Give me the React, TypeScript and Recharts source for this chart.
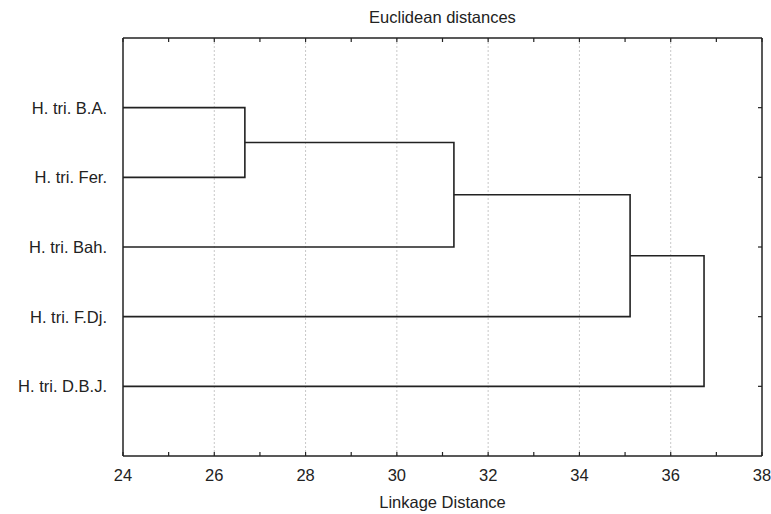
// Dendrogram (Euclidean distances, single tree) drawn with Recharts scatter lines

import { ComposedChart, Scatter, XAxis, YAxis, CartesianGrid } from 'recharts';

const leafNames = ['H. tri. B.A.', 'H. tri. Fer.', 'H. tri. Bah.', 'H. tri. F.Dj.', 'H. tri. D.B.J.'];
// merge k joins node mergeLeft[k] with node mergeRight[k]; node ids >= 5 are earlier clusters
const mergeLeft = [0, 5, 6, 7];
const mergeRight = [1, 2, 3, 4];
const mergeDistance = [26.67, 31.25, 35.11, 36.73];

const majorTicks = [24, 26, 28, 30, 32, 34, 36, 38];
const minorTicks = [24, 25, 26, 27, 28, 29, 30, 31, 32, 33, 34, 35, 36, 37, 38];
const leafTicks = [1, 2, 3, 4, 5];

const X_MIN = 24;
const X_MAX = 38;
const INK = '#222';
const FONT = '"Liberation Sans", Arial, sans-serif';

type Pt = { x: number; y: number };

/** Turn the linkage into one U-shaped path per merge */
function buildLinks(): Pt[][] {
  const nodes: Pt[] = leafNames.map((_, i) => ({ x: X_MIN, y: i + 1 }));
  return mergeDistance.map((d, k) => {
    const a = nodes[mergeLeft[k]];
    const b = nodes[mergeRight[k]];
    nodes.push({ x: d, y: (a.y + b.y) / 2 });
    return [
      { x: a.x, y: a.y },
      { x: d, y: a.y },
      { x: d, y: b.y },
      { x: b.x, y: b.y },
    ];
  });
}

const links = buildLinks();
const blank = () => '';
const evenOnly = (v: number) => (majorTicks.includes(v) ? String(v) : '');
const noDot = () => <g />;

export default function App() {
  return (
    <div
      style={{
        position: 'absolute',
        left: 0,
        top: 0,
        width: 771,
        height: 514,
        fontFamily: FONT,
        background: '#fff',
      }}
    >
      <ComposedChart width={771} height={514} margin={{ top: 38, right: 9, bottom: 0, left: 0 }}>
        <CartesianGrid
          xAxisId="x"
          yAxisId="y"
          horizontal={false}
          verticalValues={majorTicks.slice(1, -1)}
          strokeDasharray="2 2"
          stroke="#c8c8c8"
        />
        <XAxis
          xAxisId="x"
          type="number"
          dataKey="x"
          orientation="bottom"
          domain={[X_MIN, X_MAX]}
          ticks={minorTicks}
          interval={0}
          allowDataOverflow
          height={58}
          tickSize={-4}
          tickMargin={17}
          tickFormatter={evenOnly}
          tickLine={{ stroke: INK, strokeWidth: 1.2 }}
          axisLine={{ stroke: INK, strokeWidth: 1.5 }}
          tick={{ fill: INK, fontSize: 16.5, fontFamily: FONT }}
          label={{
            value: 'Linkage Distance',
            position: 'insideBottom',
            offset: 6,
            fill: INK,
            fontSize: 16.5,
            fontFamily: FONT,
          }}
        />
        <XAxis
          xAxisId="xt"
          type="number"
          dataKey="x"
          orientation="top"
          mirror
          domain={[X_MIN, X_MAX]}
          allowDataOverflow
          ticks={minorTicks}
          interval={0}
          tickFormatter={blank}
          tickSize={4}
          axisLine={{ stroke: INK, strokeWidth: 1.5 }}
          tickLine={{ stroke: INK, strokeWidth: 1.2 }}
        />
        <YAxis
          yAxisId="y"
          type="number"
          dataKey="y"
          domain={[0, 6]}
          reversed
          ticks={leafTicks}
          interval={0}
          width={123}
          tickLine={false}
          tickSize={6}
          tickMargin={10}
          tickFormatter={(v) => leafNames[Number(v) - 1] ?? ''}
          axisLine={{ stroke: INK, strokeWidth: 1.5 }}
          tick={{ fill: INK, fontSize: 16.5, fontFamily: FONT }}
        />
        <YAxis
          yAxisId="yr"
          type="number"
          dataKey="y"
          orientation="right"
          mirror
          domain={[0, 6]}
          allowDataOverflow
          reversed
          ticks={leafTicks}
          interval={0}
          tickFormatter={blank}
          tickSize={4}
          axisLine={{ stroke: INK, strokeWidth: 1.5 }}
          tickLine={{ stroke: INK, strokeWidth: 1.2 }}
        />
        {links.map((pts, i) => (
          <Scatter
            key={i}
            xAxisId="x"
            yAxisId="y"
            data={pts}
            line={{ stroke: INK, strokeWidth: 1.6 }}
            lineJointType="linear"
            shape={noDot}
            isAnimationActive={false}
          />
        ))}
        {/* invisible series so the top and right frame axes get a scale */}
        <Scatter
          xAxisId="xt"
          yAxisId="yr"
          data={links[0]}
          shape={noDot}
          isAnimationActive={false}
        />
      </ComposedChart>
      <div
        style={{
          position: 'absolute',
          left: 123,
          width: 639,
          top: 8,
          textAlign: 'center',
          fontSize: 16.5,
          color: INK,
          pointerEvents: 'none',
        }}
      >
        Euclidean distances
      </div>
    </div>
  );
}
